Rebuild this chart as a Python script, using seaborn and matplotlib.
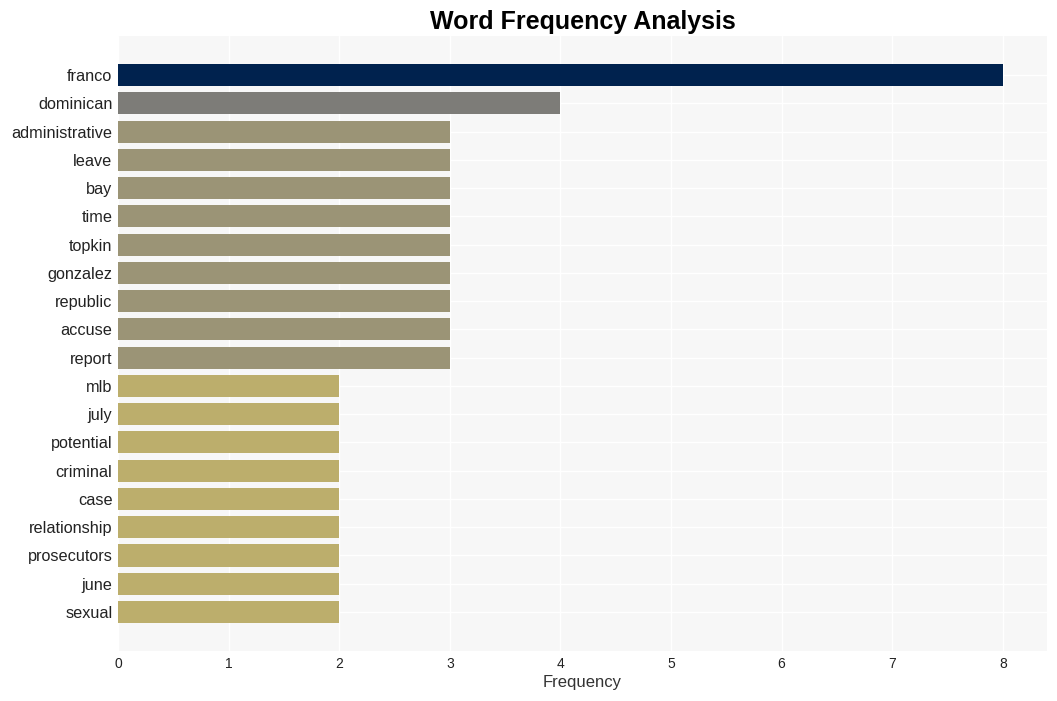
import matplotlib
matplotlib.use("Agg")
import matplotlib.pyplot as plt
import numpy as np
import pandas as pd
import seaborn as sns

words = ["franco", "dominican", "administrative", "leave", "bay", "time", "topkin",
         "gonzalez", "republic", "accuse", "report", "mlb", "july", "potential",
         "criminal", "case", "relationship", "prosecutors", "june", "sexual"]
counts = [8, 4, 3, 3, 3, 3, 3, 3, 3, 3, 3, 2, 2, 2, 2, 2, 2, 2, 2, 2]

df = pd.DataFrame({"word": words, "count": counts})

sns.set_theme(style="whitegrid")
plt.rcParams["font.family"] = ["Liberation Sans", "DejaVu Sans"]

# colour each bar by its share of the top count (reversed cividis)
cmap = plt.get_cmap("cividis")
top = max(counts)
colors = [cmap(1 - c / top) for c in counts]

fig = plt.figure(figsize=(10.57, 7.01), dpi=100)
ax = fig.add_axes([0.1116, 0.0713, 0.879, 0.8773])
ax.set_facecolor("#f7f7f7")

sns.barplot(data=df, x="count", y="word", hue="word", palette=colors,
            saturation=1, linewidth=0, legend=False, width=0.78, ax=ax, zorder=3)

ax.set_xlim(0, 8.4)
ax.set_ylim(len(words) - 1 + 1.38, -1.38)
ax.set_xticks(range(0, 9))
ax.grid(True, color="white", linewidth=1)
for s in ax.spines.values():
    s.set_visible(False)

ax.set_title("Word Frequency Analysis", fontsize=18, fontweight="bold",
             color="black", pad=5)
ax.set_xlabel("Frequency", fontsize=12, color="#333333", labelpad=3)
ax.set_ylabel("")
ax.tick_params(axis="y", labelsize=11.7, length=0, pad=4, labelcolor="#222222")
ax.tick_params(axis="x", labelsize=10, length=0, pad=4, labelcolor="#222222")

fig.savefig("out.png", dpi=100)
